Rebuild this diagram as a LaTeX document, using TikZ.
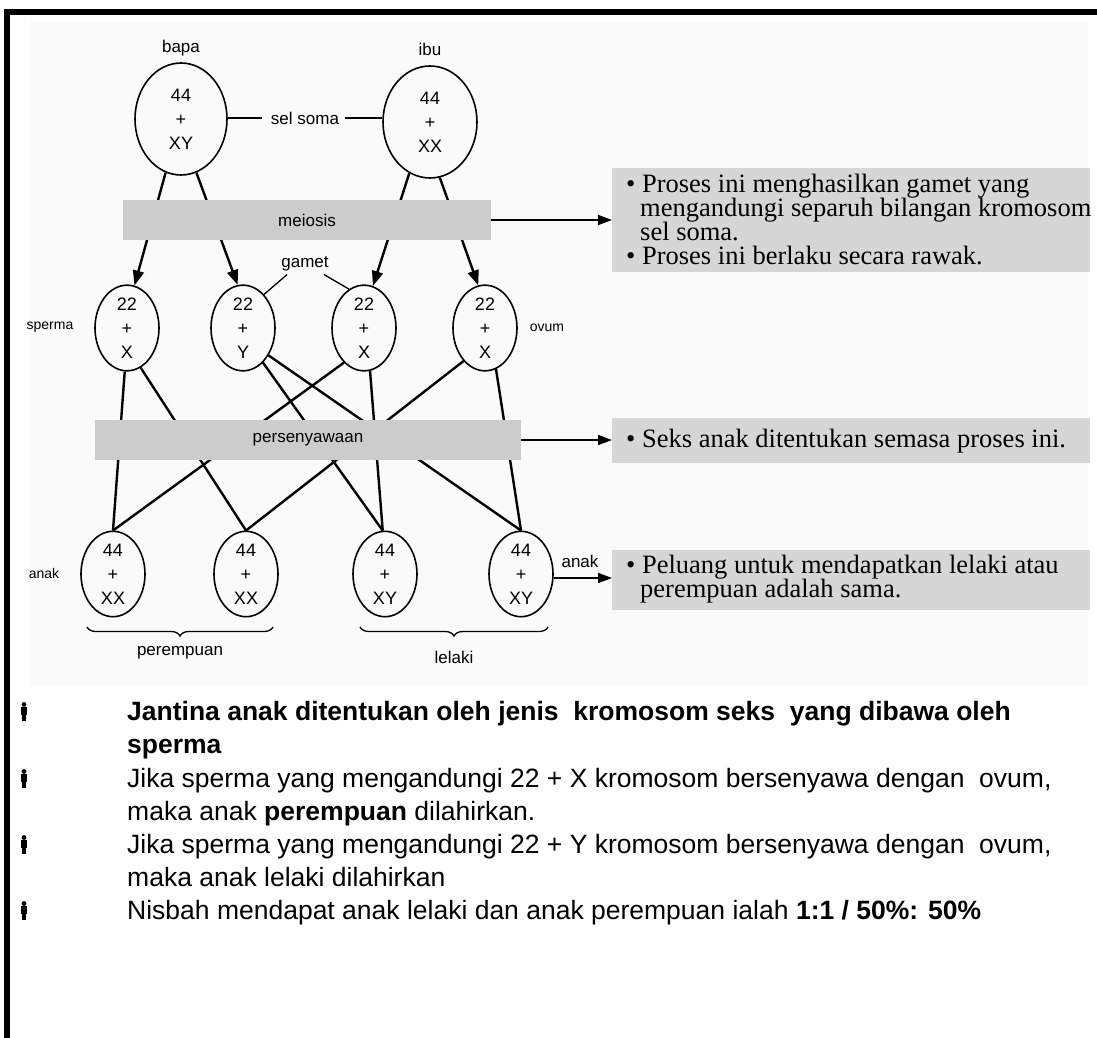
\documentclass[tikz,border=0pt]{standalone}
\usepackage{fontspec}
\setmainfont{Liberation Serif}
\setsansfont{Liberation Sans}
\usetikzlibrary{shapes.geometric,arrows.meta,decorations.pathreplacing}

\newcommand\diagfont{\sffamily\fontsize{17}{20}\selectfont}
\newcommand\cellfont{\sffamily\fontsize{18}{24}\selectfont}
\newcommand\sidefont{\sffamily\fontsize{14}{16}\selectfont}
\newcommand\notefont{\rmfamily\fontsize{26.5}{24}\selectfont}
\newcommand\bodyfont{\sffamily\fontsize{26.5}{33}\selectfont}

\tikzset{
  man/.pic={
    \fill (0,-15.5) circle (2.4pt);
    \fill (-2.8,-12.6) rectangle (2.8,-5);
    \fill (-2.3,-5) rectangle (-0.4,0.5);
    \fill (0.4,-5) rectangle (2.3,0.5);
  }
}

\begin{document}
\begin{tikzpicture}[x=1pt,y=-1pt,
  cell/.style={ellipse, draw, line width=1.6pt, inner sep=0pt, align=center, font=\cellfont},
  parent/.style={cell, minimum width=92pt, minimum height=112pt},
  gam/.style={cell, minimum width=64pt, minimum height=82pt},
  lbl/.style={font=\diagfont, inner sep=0pt},
  sidelbl/.style={font=\sidefont, inner sep=0pt},
  band/.style={fill=black!20, draw=none, inner sep=0pt, font=\diagfont},
  note/.style={fill=black!16, draw=none, inner sep=0pt, anchor=north west},
  conn/.style={line width=2.4pt},
  down/.style={line width=2.4pt, -{Triangle[length=15pt,width=11pt]}},
  side/.style={line width=1.6pt, -{Triangle[length=14pt,width=10pt]}},
  thinline/.style={line width=1.3pt},
  notetext/.style={font=\notefont, inner sep=0pt, anchor=base west},
  bodytext/.style={font=\bodyfont, inner sep=0pt, anchor=base west},
]
\useasboundingbox (0,0) rectangle (1097,1038);

% page frame: heavy rule on top and left
\fill[black!2] (30,22) rectangle (1088,686);
\fill (4,9) rectangle (1097,15);
\fill (4,9) rectangle (10,1038);

% parents
\node[lbl] (bapaL) at (181,48) {bapa};
\node[lbl] (ibuL) at (430,49) {ibu};
\node[parent] (bapa) at (181,119) {44\\+\\XY};
\node[parent, minimum width=94pt] (ibu) at (430,122) {44\\+\\XX};
\node[lbl] (soma) at (305,118) {sel soma};
\draw[thinline] (bapa.east |- soma.west) -- ([xshift=-9pt]soma.west);
\draw[thinline] ([xshift=6pt]soma.east) -- (ibu.west |- soma.east);

% gametes
\node[gam] (g1) at (127,328) {22\\+\\X};
\node[gam] (g2) at (243,328) {22\\+\\Y};
\node[gam] (g3) at (364,328) {22\\+\\X};
\node[gam] (g4) at (485,328) {22\\+\\X};
\node[sidelbl] (spermaL) at (50,327) {sperma};
\node[sidelbl] (ovumL) at (547,328) {ovum};
\node[lbl] (gamet) at (305,264) {gamet};
\draw[thinline] ([xshift=6pt,yshift=-3pt]gamet.south west) -- (g2.58);
\draw[thinline] ([xshift=-5pt,yshift=-3pt]gamet.south east) -- (g3.111);

% meiosis
\draw[down] (bapa.254) -- (g1.80);
\draw[down] (bapa.286) -- (g2.97);
\draw[down] (ibu.248) -- (g3.78);
\draw[down] (ibu.280) -- (g4.99);
\node[band, minimum width=368pt, minimum height=40pt] (meiosis) at (307,220) {meiosis};

% offspring
\node[gam] (o1) at (113,574) {44\\+\\XX};
\node[gam] (o2) at (246,574) {44\\+\\XX};
\node[gam] (o3) at (385,574) {44\\+\\XY};
\node[gam] (o4) at (521,574) {44\\+\\XY};
\node[sidelbl] (anakL) at (44,573) {anak};
\node[lbl] (anakR) at (580,561) {anak};

% fertilisation
\draw[conn] (g1.267) -- (o1.north);
\draw[conn] (g1.289) -- (o2.north);
\draw[conn] (g2.300) -- (o3.93);
\draw[conn] (g2.313) -- (o4.north);
\draw[conn] (g3.240) -- (o1.north);
\draw[conn] (g3.278) -- (o3.93);
\draw[conn] (g4.237) -- (o2.north);
\draw[conn] (g4.285) -- (o4.north);
\node[band, minimum width=426pt, minimum height=40pt] (fert) at (308,440) {persenyawaan};

% braces under the children
\draw[thinline, decorate, decoration={brace, mirror, amplitude=9pt}] (87,627) -- (273,627);
\draw[thinline, decorate, decoration={brace, mirror, amplitude=9pt}] (360,627) -- (548,627);
\node[lbl] (fem) at (180,653) {perempuan};
\node[lbl] (male) at (454,657) {lelaki};

% notes on the right
\node[note, minimum width=478pt, minimum height=104pt] (box1) at (612,168) {};
\node[note, minimum width=478pt, minimum height=45pt] (box2) at (612,418) {};
\node[note, minimum width=478pt, minimum height=60pt] (box3) at (612,550) {};
\draw[side] (meiosis.east) -- (meiosis.east -| box1.west);
\draw[side] (fert.east) -- (fert.east -| box2.west);
\draw[side] (o4.-7) -- (o4.-7 -| box3.west);

\begin{scope}
  \clip (box1.north west) rectangle (box1.south east);
  \node[notetext] (n1a) at (626,192) {• Proses ini menghasilkan gamet yang};
  \node[notetext] (n1b) at (640,216) {mengandungi separuh bilangan kromosom};
  \node[notetext] (n1c) at (640,240) {sel soma.};
  \node[notetext] (n1d) at (626,264) {• Proses ini berlaku secara rawak.};
\end{scope}
\node[notetext] (n2a) at (626,447) {• Seks anak ditentukan semasa proses ini.};
\node[notetext] (n3a) at (626,573) {• Peluang untuk mendapatkan lelaki atau};
\node[notetext] (n3b) at (640,597) {perempuan adalah sama.};

% summary list
\pic at (24,720) {man};
\pic at (24,787) {man};
\pic at (24,853) {man};
\pic at (24,919) {man};
\node[bodytext] (s1a) at (127,720) {\bfseries Jantina anak ditentukan oleh jenis\ \ kromosom seks\ \ yang dibawa oleh};
\node[bodytext] (s1b) at (127,753) {\bfseries sperma};
\node[bodytext] (s2a) at (127,787) {Jika sperma yang mengandungi 22 + X kromosom bersenyawa dengan\ \ ovum,};
\node[bodytext] (s2b) at (127,820) {maka anak \textbf{perempuan} dilahirkan.};
\node[bodytext] (s3a) at (127,853) {Jika sperma yang mengandungi 22 + Y kromosom bersenyawa dengan\ \ ovum,};
\node[bodytext] (s3b) at (127,886) {maka anak lelaki dilahirkan};
\node[bodytext] (s4a) at (127,919) {Nisbah mendapat anak lelaki dan anak perempuan ialah \textbf{1:1 / 50\%: 50\%}};
\end{tikzpicture}
\end{document}
